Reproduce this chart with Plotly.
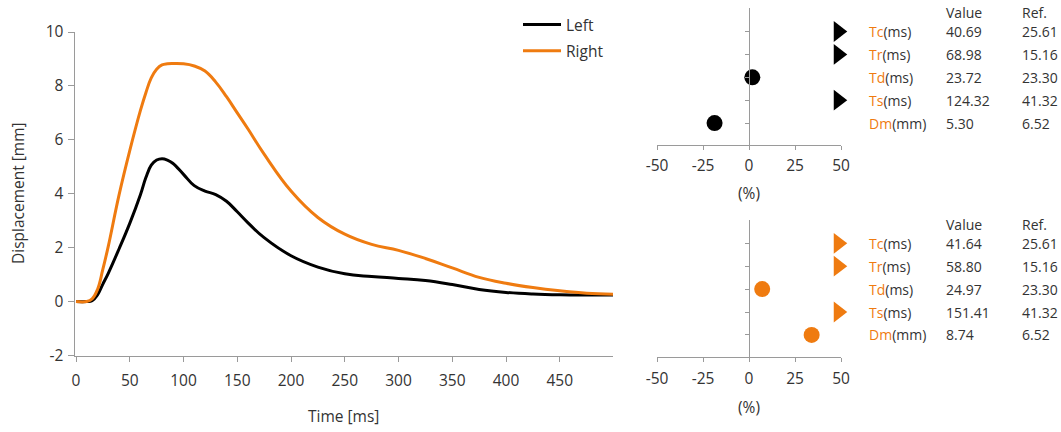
import plotly.graph_objects as go

# ---------------- data ----------------
time_ms = [0, 10, 15, 20, 25, 30, 40, 50, 60, 65, 70, 75, 80, 85, 90, 100, 110, 120, 130, 140,
           150, 160, 175, 200, 225, 250, 275, 300, 325, 350, 375, 400, 425, 450, 475, 500]
left_mm = [0, 0, 0.03, 0.25, 0.65, 1.05, 1.95, 2.9, 3.97, 4.6, 5.06, 5.25, 5.3, 5.25, 5.13,
           4.72, 4.3, 4.1, 3.97, 3.72, 3.33, 2.92, 2.37, 1.7, 1.28, 1.03, 0.93, 0.86, 0.78,
           0.63, 0.45, 0.34, 0.28, 0.25, 0.24, 0.24]
right_mm = [0, 0, 0.1, 0.45, 1.2, 2.05, 3.95, 5.6, 7.1, 7.75, 8.3, 8.62, 8.78, 8.82, 8.83,
            8.82, 8.74, 8.55, 8.14, 7.6, 7.0, 6.4, 5.47, 4.1, 3.12, 2.5, 2.12, 1.9, 1.6,
            1.25, 0.9, 0.68, 0.52, 0.4, 0.31, 0.27]

params = ["Tc", "Tr", "Td", "Ts", "Dm"]
units = ["(ms)", "(ms)", "(ms)", "(ms)", "(mm)"]
left_values = [40.69, 68.98, 23.72, 124.32, 5.30]
right_values = [41.64, 58.80, 24.97, 151.41, 8.74]
ref_values = [25.61, 15.16, 23.30, 41.32, 6.52]

x_ticks = [0, 50, 100, 150, 200, 250, 300, 350, 400, 450]
y_ticks = [-2, 0, 2, 4, 6, 8, 10]
pct_ticks = [-50, -25, 0, 25, 50]

# ---------------- style ----------------
W, H = 1061, 432
ORANGE = "#EF7B10"
BLACK = "#000000"
TEXT = "#333333"
AXIS = "#9a9a9a"
FONT = "Open Sans"
CLIP = 48.5


def px_x(p):
    return p / W


def px_y(p):
    return 1 - p / H


fig = go.Figure()

# main curves
fig.add_trace(go.Scatter(x=time_ms, y=left_mm, mode="lines", name="Left", legendgroup="L",
                         line=dict(color=BLACK, width=3, shape="spline", smoothing=1.2),
                         xaxis="x", yaxis="y"))
fig.add_trace(go.Scatter(x=time_ms, y=right_mm, mode="lines", name="Right", legendgroup="R",
                         line=dict(color=ORANGE, width=3, shape="spline", smoothing=1.2),
                         xaxis="x", yaxis="y"))

# deviation panels
panels = [(left_values, BLACK, "x2", "y2"), (right_values, ORANGE, "x3", "y3")]
for vals, col, xa, ya in panels:
    pct = [(v - r) / r * 100 for v, r in zip(vals, ref_values)]
    xs, ys, syms = [], [], []
    for i, p in enumerate(pct):
        if p > 50:
            xs.append(CLIP); syms.append("triangle-right")
        elif p < -50:
            xs.append(-CLIP); syms.append("triangle-left")
        else:
            xs.append(p); syms.append("circle")
        ys.append(i)
    sizes = [18 if s != "circle" else 16 for s in syms]
    fig.add_trace(go.Scatter(x=xs, y=ys, mode="markers", showlegend=False,
                             marker=dict(color=col, symbol=syms, size=sizes, opacity=1,
                                         line=dict(width=0)),
                             cliponaxis=False, xaxis=xa, yaxis=ya))

tickfont = dict(family=FONT, size=15.5, color=TEXT)

fig.update_layout(
    template="none",
    width=W, height=H,
    margin=dict(l=0, r=0, t=0, b=0, pad=0),
    paper_bgcolor="white", plot_bgcolor="white",
    font=dict(family=FONT, color=TEXT),
    showlegend=True,
    legend=dict(x=px_x(518), y=px_y(8), xanchor="left", yanchor="top",
                font=dict(family=FONT, size=15.5, color=TEXT),
                bgcolor="rgba(0,0,0,0)", itemwidth=38, tracegroupgap=3),
    xaxis=dict(domain=[px_x(74.5), px_x(613)], range=[-1.4, 499.5], tickvals=x_ticks,
               ticktext=[str(v) for v in x_ticks],
               showline=True, linecolor=AXIS, linewidth=1, ticks="outside", ticklen=5,
               tickcolor=AXIS, showgrid=False, zeroline=False, tickfont=tickfont,
               anchor="y", ticklabelstandoff=6, automargin=False),
    yaxis=dict(domain=[px_y(355.5), px_y(32)], range=[-2, 10], tickvals=y_ticks,
               ticktext=[str(v) for v in y_ticks],
               showline=True, linecolor=AXIS, linewidth=1, ticks="outside", ticklen=6,
               tickcolor=AXIS, showgrid=False, zeroline=False, tickfont=tickfont,
               anchor="x", ticklabelstandoff=1, automargin=False),
)

# deviation axes
for xa, ya, top, bottom, r0 in [("xaxis2", "yaxis2", 8, 144.5, 31.5),
                                 ("xaxis3", "yaxis3", 220, 357, 243.3)]:
    step = 22.9
    lo = (top - r0) / step
    hi = (bottom - r0) / step
    yname = ya.replace("axis", "")
    fig.layout[xa] = dict(domain=[px_x(657), px_x(841)], range=[-50, 50], tickvals=pct_ticks,
                          ticktext=[str(v) for v in pct_ticks],
                          showline=True, linecolor=AXIS, linewidth=1, ticks="outside",
                          ticklen=4, tickcolor=AXIS, showgrid=False, zeroline=False,
                          tickfont=tickfont, anchor=yname, automargin=False,
                          ticklabelstandoff=3)
    fig.layout[ya] = dict(domain=[px_y(bottom), px_y(top)], range=[hi, lo],
                          tickvals=[0, 1, 2, 3, 4], ticktext=[""] * 5,
                          showline=True, linecolor=AXIS, linewidth=1, ticks="outside",
                          ticklen=4, tickcolor=AXIS, showgrid=False, zeroline=False,
                          showticklabels=False, anchor="free", position=px_x(749),
                          automargin=False)

annotations = []
# axis titles
annotations.append(dict(text="Displacement [mm]", x=px_x(18), y=px_y(193), xref="paper",
                        yref="paper", textangle=-90, showarrow=False,
                        xanchor="center", yanchor="middle",
                        font=dict(family=FONT, size=15.5, color=TEXT)))
annotations.append(dict(text="Time [ms]", x=px_x(343), y=px_y(416), xref="paper",
                        yref="paper", showarrow=False, xanchor="center", yanchor="middle",
                        font=dict(family=FONT, size=15.5, color=TEXT)))
for yy in (193, 407):
    annotations.append(dict(text="(%)", x=px_x(749), y=px_y(yy), xref="paper", yref="paper",
                            xanchor="center", yanchor="middle",
                            showarrow=False, font=dict(family=FONT, size=15.5, color=TEXT)))

# tables
tfont = dict(family=FONT, size=14, color=TEXT)
for vals, yref, hdr in [(left_values, "y2", 13), (right_values, "y3", 224)]:
    annotations.append(dict(text="Value", x=px_x(944), y=px_y(hdr), xref="paper", yref="paper",
                            xanchor="left", yanchor="middle", showarrow=False, font=tfont))
    annotations.append(dict(text="Ref.", x=px_x(1020), y=px_y(hdr), xref="paper", yref="paper",
                            xanchor="left", yanchor="middle", showarrow=False, font=tfont))
    for i, (p, u, v, r) in enumerate(zip(params, units, vals, ref_values)):
        annotations.append(dict(text=f"<span style='color:{ORANGE}'>{p}</span>{u}",
                                x=px_x(867), y=i, xref="paper", yref=yref, xanchor="left",
                                yanchor="middle", showarrow=False, font=tfont))
        annotations.append(dict(text=f"{v:.2f}", x=px_x(944), y=i, xref="paper", yref=yref,
                                xanchor="left", yanchor="middle", showarrow=False, font=tfont))
        annotations.append(dict(text=f"{r:.2f}", x=px_x(1020), y=i, xref="paper", yref=yref,
                                xanchor="left", yanchor="middle", showarrow=False, font=tfont))

fig.update_layout(annotations=annotations)
fig.write_html("out.html")
